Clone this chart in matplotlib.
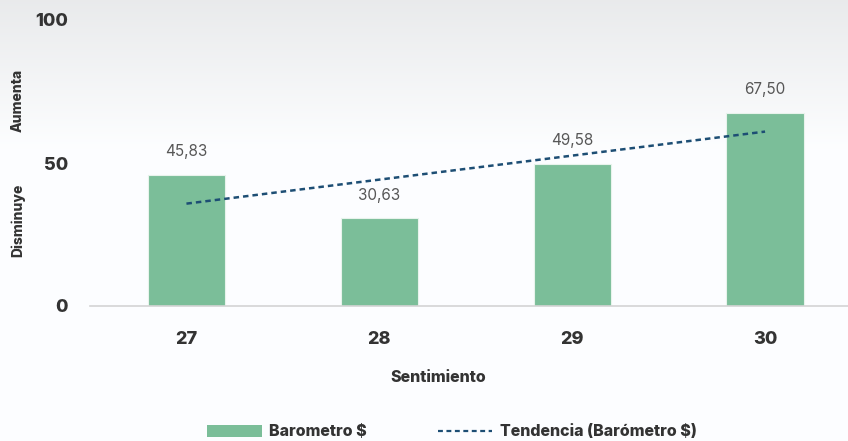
import numpy as np
import matplotlib.pyplot as plt
from matplotlib.patches import Patch
from matplotlib.lines import Line2D

plt.rcParams['font.family'] = ['Inter', 'DejaVu Sans']

categories = ["27", "28", "29", "30"]
barometro = [45.83, 30.63, 49.58, 67.50]
value_labels = ["45,83", "30,63", "49,58", "67,50"]
y_ticks = [0, 50, 100]

bar_color = "#7bbe99"
trend_color = "#1d4e74"
text_dark = "#333333"
label_gray = "#575757"

fig = plt.figure(figsize=(8.48, 4.41), dpi=100)

# faint background wash
bg = fig.add_axes([0, 0, 1, 1], zorder=-10)
grad = np.linspace(0, 1, 200)[:, None]
shade = 0.915 + 0.075 * np.clip(grad * 3.0, 0, 1)
bg.imshow(np.dstack([shade, shade + 0.005, shade + 0.01]).clip(0, 1),
          aspect="auto", extent=[0, 1, 0, 1], origin="upper")
bg.axis("off")

ax = fig.add_axes([90 / 848, 135 / 441, 758 / 848, 286 / 441])
ax.patch.set_alpha(0)

x = np.arange(len(categories))
ax.bar(x, barometro, width=0.4, color=bar_color, edgecolor="#e8f3ec", linewidth=0.8, zorder=2)

for xi, v, lab in zip(x, barometro, value_labels):
    ax.text(xi, v + 5.5, lab, ha="center", va="bottom", fontsize=11, color=label_gray)

# linear trend line (as in the spreadsheet)
slope, intercept = np.polyfit(x, barometro, 1)
ax.plot(x, slope * x + intercept, color=trend_color, lw=1.8, ls=(0, (2.2, 1.6)), zorder=3)

ax.set_xlim(-0.5, 3.43)
ax.set_ylim(0, 100)
ax.set_xticks(x)
ax.set_xticklabels(categories)
ax.set_yticks(y_ticks)
ax.tick_params(axis="both", length=0, labelsize=13, colors=text_dark)
ax.tick_params(axis="y", pad=16)
ax.tick_params(axis="x", pad=18)
for t in ax.get_xticklabels() + ax.get_yticklabels():
    t.set_fontweight("heavy")

for s in ["top", "right", "left"]:
    ax.spines[s].set_visible(False)
ax.spines["bottom"].set_color("#d4d4d4")
ax.spines["bottom"].set_linewidth(1.2)

ax.set_xlabel("Sentimiento", fontsize=11.5, fontweight="heavy", color=text_dark, labelpad=12)
ax.xaxis.set_label_coords((438 - 90) / 758, -0.225)

fig.text(18 / 848, 1 - 220 / 441, "Disminuye", rotation=90, ha="center", va="center",
         fontsize=10, fontweight="heavy", color=text_dark)
fig.text(18 / 848, 1 - 100 / 441, "Aumenta", rotation=90, ha="center", va="center",
         fontsize=10, fontweight="heavy", color=text_dark)

handles = [Patch(facecolor=bar_color, edgecolor="none"),
           Line2D([0], [0], color=trend_color, lw=1.6, ls=(0, (2.2, 1.6)))]
leg = fig.legend(handles, ["Barometro $", "Tendencia (Barómetro $)"], ncol=2,
                 loc="center", bbox_to_anchor=(452 / 848, 1 - 432 / 441), frameon=False,
                 prop={"size": 11.5, "weight": "heavy"}, handlelength=3.4, handleheight=0.8,
                 handletextpad=0.5, columnspacing=4.4)
for t in leg.get_texts():
    t.set_color(text_dark)

fig.savefig("out.png", dpi=100)
